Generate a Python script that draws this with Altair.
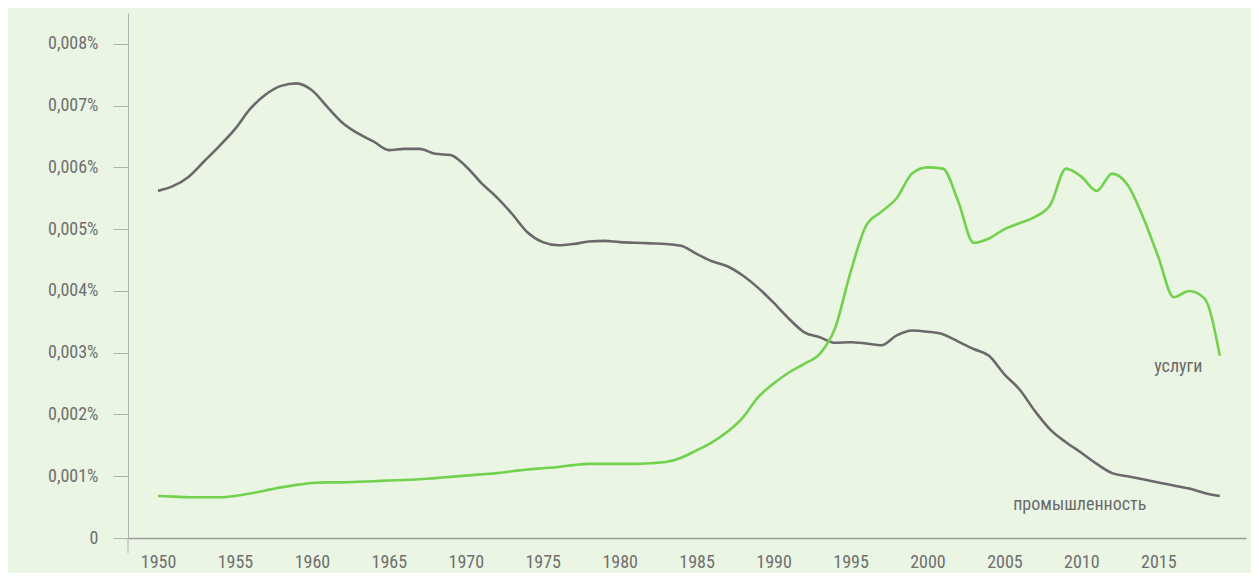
import altair as alt
import pandas as pd

years = list(range(1950, 2020))

# промышленность (values in thousandths of a percent)
industry = [5.62, 5.70, 5.85, 6.10, 6.35, 6.62, 6.95, 7.18, 7.32, 7.36,
            7.25, 6.98, 6.72, 6.55, 6.42, 6.28, 6.30, 6.30, 6.22, 6.20,
            6.02, 5.75, 5.52, 5.25, 4.95, 4.79, 4.74, 4.76, 4.80, 4.81,
            4.79, 4.78, 4.77, 4.76, 4.73, 4.60, 4.48, 4.40, 4.25, 4.05,
            3.81, 3.55, 3.33, 3.25, 3.16, 3.17, 3.15, 3.12, 3.28, 3.36,
            3.34, 3.30, 3.18, 3.06, 2.95, 2.65, 2.40, 2.05, 1.75, 1.55,
            1.38, 1.20, 1.05, 1.00, 0.95, 0.90, 0.85, 0.80, 0.73, 0.68]

# услуги (values in thousandths of a percent)
services = [0.68, 0.67, 0.66, 0.66, 0.66, 0.68, 0.72, 0.77, 0.82, 0.86,
            0.89, 0.90, 0.90, 0.91, 0.92, 0.93, 0.94, 0.95, 0.97, 0.99,
            1.01, 1.03, 1.05, 1.08, 1.11, 1.13, 1.15, 1.18, 1.20, 1.20,
            1.20, 1.20, 1.21, 1.23, 1.30, 1.42, 1.55, 1.72, 1.95, 2.28,
            2.50, 2.68, 2.82, 2.98, 3.40, 4.30, 5.05, 5.28, 5.50, 5.90,
            6.00, 5.98, 5.45, 4.78, 4.85, 5.00, 5.10, 5.20, 5.40, 5.98,
            5.85, 5.62, 5.90, 5.72, 5.20, 4.55, 3.90, 4.00, 3.88, 2.95]

scale_factor = 0.001
y_ticks = [0, 0.001, 0.002, 0.003, 0.004, 0.005, 0.006, 0.007, 0.008]
x_ticks = list(range(1950, 2020, 5))

label_names = ["услуги", "промышленность"]
label_years = [2016.3, 2009.9]
label_values = [2.77, 0.53]

rows = []
for y, a, b in zip(years, industry, services):
    rows.append({"year": y, "value": a * scale_factor, "series": "промышленность"})
    rows.append({"year": y, "value": b * scale_factor, "series": "услуги"})
df = pd.DataFrame(rows)

labels_df = pd.DataFrame({
    "name": label_names,
    "year": label_years,
    "value": [v * scale_factor for v in label_values],
})

W, H = 1118, 525
FONT = "Liberation Sans Narrow, Roboto Condensed, Roboto, sans-serif"

x_scale = alt.Scale(domain=[1948.05, 2020.7], nice=False, zero=False)
y_scale = alt.Scale(domain=[0, 0.0085], nice=False)

lines = alt.Chart(df).mark_line(strokeWidth=2.6, interpolate="monotone").encode(
    x=alt.X("year:Q", scale=x_scale,
            axis=alt.Axis(values=x_ticks, format="d", title=None, ticks=False,
                          labelPadding=15, labelFontSize=18, labelColor="#6f6f6f",
                          labelFont=FONT, domainColor="#9a9a9a", domainWidth=1.5,
                          grid=False)),
    y=alt.Y("value:Q", scale=y_scale,
            axis=alt.Axis(values=y_ticks, title=None, tickSize=15,
                          tickColor="#b0b0b0", tickWidth=1,
                          labelPadding=15, labelFontSize=18, labelColor="#6f6f6f",
                          labelFont=FONT, domainColor="#b0b0b0", domainWidth=1,
                          grid=False,
                          labelExpr="datum.value == 0 ? '0' : replace(format(datum.value, '.3f'), '.', ',') + '%'")),
    color=alt.Color("series:N",
                    scale=alt.Scale(domain=["промышленность", "услуги"],
                                    range=["#6c686c", "#72d24e"]),
                    legend=None),
)

texts = alt.Chart(labels_df).mark_text(fontSize=18, color="#6a6a6a", font=FONT,
                                       align="center", baseline="middle").encode(
    x=alt.X("year:Q", scale=x_scale),
    y=alt.Y("value:Q", scale=y_scale),
    text="name:N",
)

axis_ext = alt.Chart(pd.DataFrame({"a": [0]})).mark_rule(color="#b0b0b0", strokeWidth=1).encode(
    x=alt.value(0), y=alt.value(H), y2=alt.value(H + 15)
)

chart = alt.layer(lines, texts, axis_ext).properties(
    width=W, height=H,
    autosize=alt.AutoSizeParams(type="none"),
    padding={"left": 120, "top": 5, "right": 5, "bottom": 35},
    background="#eaf5e4",
).configure_view(stroke=None)

chart.save("out.html", embed_options={"renderer": "svg", "actions": False})
